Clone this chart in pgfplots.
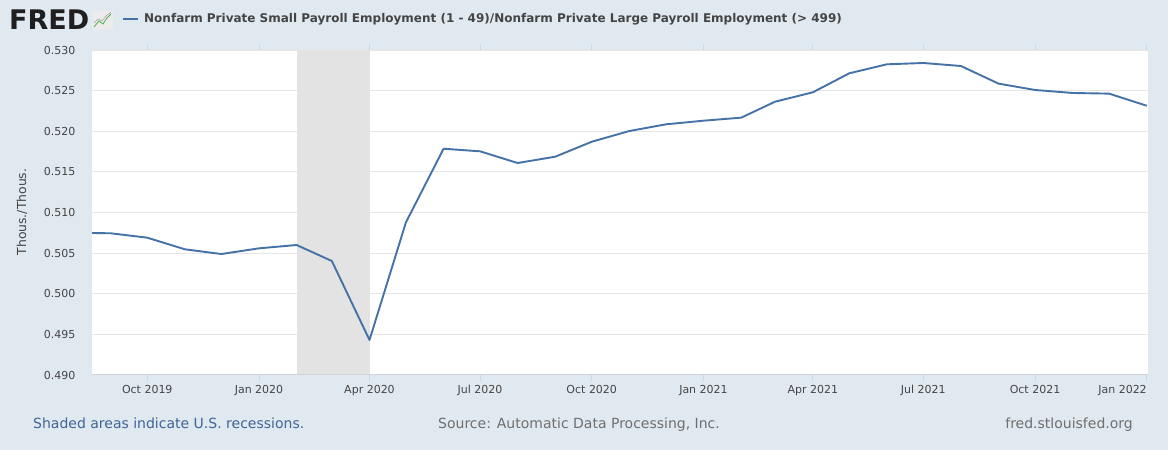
\documentclass[border=0pt]{standalone}
\usepackage{fontspec}
\setmainfont{DejaVu Sans}
\usepackage{pgfplots}
\pgfplotsset{compat=1.18}
\usepackage{pgfplotstable}
\definecolor{bg}{HTML}{E1E9F0}
\definecolor{line}{HTML}{4572A7}
\definecolor{txt}{HTML}{444444}
\definecolor{recg}{HTML}{E3E3E3}
\definecolor{gridc}{HTML}{E6E6E6}
\definecolor{tickc}{HTML}{CCD6EB}
\definecolor{note}{HTML}{3E6498}
\definecolor{src}{HTML}{6E6E6E}
\pgfplotstableread{
day value
-153 0.50752
-122 0.50744
-92 0.50690
-61 0.50547
-31 0.50489
0 0.50559
31 0.50600
60 0.50403
91 0.49431
121 0.50879
152 0.51785
182 0.51753
213 0.51609
244 0.51687
274 0.51871
305 0.52003
335 0.52085
366 0.52130
397 0.52167
425 0.52364
456 0.52479
486 0.52713
517 0.52824
547 0.52840
578 0.52803
609 0.52586
639 0.52508
670 0.52471
700 0.52463
731 0.52314
}\ratio
\begin{document}
\begin{tikzpicture}[x=1pt,y=1pt]
\fill[bg] (0,0) rectangle (1168,450);
% header
\node[anchor=base west, inner sep=0, font=\fontsize{27}{30}\selectfont\bfseries, text=black!88] at (9,420) {FRED};
\fill[black!8, rounded corners=1pt] (92,420) rectangle (113,439);
\draw[green!40!gray, line width=0.8pt] (94,423) -- (99,429) -- (103,426) -- (107,432) -- (111,436);
\draw[gray!70, line width=0.6pt] (94,427) -- (98,431) -- (102,429) -- (106,434) -- (111,438);
\draw[line, line width=2pt] (123,431) -- (138,431);
\node[anchor=base west, inner sep=0, font=\fontsize{12}{14}\selectfont\bfseries, text=txt] at (144,427) {Nonfarm Private Small Payroll Employment (1 - 49)/Nonfarm Private Large Payroll Employment (> 499)};
% y label
\node[rotate=90, font=\fontsize{12.4}{14}\selectfont, text=txt] at (22,238) {Thous./Thous.};
% footer
\node[anchor=base west, inner sep=0, font=\fontsize{14}{16}\selectfont, text=note] at (33,21) {Shaded areas indicate U.S. recessions.};
\node[anchor=base, inner sep=0, font=\fontsize{14}{16}\selectfont, text=src] at (579,21) {Source: Automatic Data Processing, Inc.};
\node[anchor=base east, inner sep=0, font=\fontsize{14}{16}\selectfont, text=src] at (1133,21) {fred.stlouisfed.org};
\begin{axis}[
  at={(92pt,75pt)}, anchor=south west,
  scale only axis, width=1056pt, height=325pt,
  xmin=-137.5, xmax=732, ymin=0.49, ymax=0.53,
  axis background/.style={fill=white},
  axis line style={draw=none},
  ytick={0.49,0.495,...,0.5301},
  yticklabel style={/pgf/number format/fixed,/pgf/number format/precision=3,/pgf/number format/fixed zerofill, text=txt, font=\fontsize{11}{13}\selectfont, xshift=-7pt},
  ytick style={draw=none},
  ymajorgrids, grid style={gridc, line width=0.8pt},
  xtick={-92,0,91,182,274,366,456,547,639,731},
  xticklabels={Oct 2019,Jan 2020,Apr 2020,Jul 2020,Oct 2020,Jan 2021,Apr 2021,Jul 2021,Oct 2021,\makebox[0pt][r]{Jan 2022}},
  xticklabel style={text=txt, font=\fontsize{11}{13}\selectfont, yshift=-1pt},
  tick align=outside, major tick length=6pt,
  xtick style={draw=tickc, line width=0.8pt},
  /pgf/number format/assume math mode=true,
]
\addplot[fill=recg, draw=none] coordinates {(31,0.49) (91,0.49) (91,0.53) (31,0.53)} -- cycle;
\addplot[line, line width=1.9pt, line join=round] table[x=day, y=value] {\ratio};
\draw[tickc, line width=1pt] (rel axis cs:0,0) -- (rel axis cs:1,0);
\end{axis}
\pgfresetboundingbox
\path[use as bounding box] (0,0) rectangle (1168,450);
\end{tikzpicture}
\end{document}
